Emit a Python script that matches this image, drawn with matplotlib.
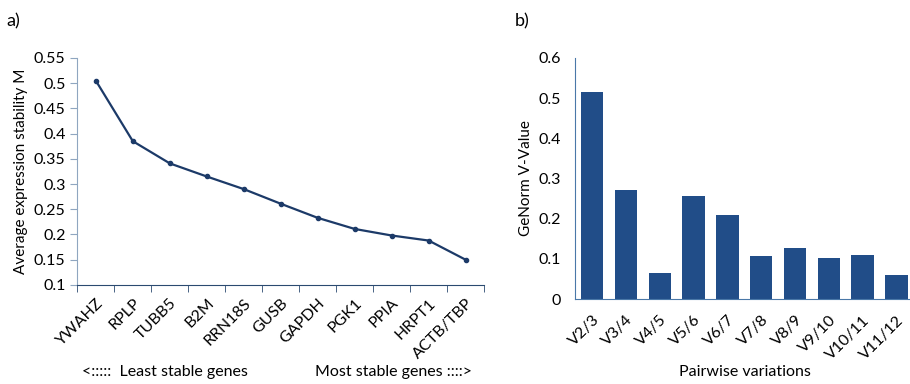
import numpy as np
import matplotlib.pyplot as plt
import matplotlib

matplotlib.rcParams['font.family'] = ['Lato', 'DejaVu Sans']

# a) geNorm average expression stability
genes = ['YWAHZ', 'RPLP', 'TUBB5', 'B2M', 'RRN18S', 'GUSB', 'GAPDH',
         'PGK1', 'PPIA', 'HRPT1', 'ACTB/TBP']
stability_m = [0.505, 0.385, 0.341, 0.315, 0.290, 0.261, 0.233,
               0.211, 0.198, 0.188, 0.150]

# b) pairwise variations
pairs = ['V2/3', 'V3/4', 'V4/5', 'V5/6', 'V6/7', 'V7/8', 'V8/9',
         'V9/10', 'V10/11', 'V11/12']
v_value = [0.515, 0.272, 0.065, 0.257, 0.209, 0.107, 0.127,
           0.103, 0.110, 0.060]

line_col = '#1c3a68'
bar_col = '#214d88'
axis_col = '#8fa6c0'

fig = plt.figure(figsize=(9.1, 3.84), dpi=100)

# --- panel a ---
ax1 = fig.add_axes([0.085, 0.258, 0.447, 0.591])
x = np.arange(len(genes))
ax1.plot(x, stability_m, color=line_col, lw=1.6, marker='o', ms=3)
ax1.set_xlim(-0.5, len(genes) - 0.5)
ax1.set_ylim(0.1, 0.55)
ax1.set_yticks(np.arange(0.1, 0.551, 0.05))
ax1.set_yticklabels(['0.1', '0.15', '0.2', '0.25', '0.3', '0.35', '0.4',
                     '0.45', '0.5', '0.55'])
ax1.set_xticks(x)
ax1.set_xticklabels(genes, rotation=45, ha='right', rotation_mode='anchor',
                    fontsize=11.5)
ax1.set_xticks(np.arange(-0.5, len(genes)), minor=True)
ax1.tick_params(axis='x', which='major', length=0, pad=8)
ax1.tick_params(axis='x', which='minor', length=5, color='#2b4a70', direction='out')
ax1.tick_params(axis='y', labelsize=11.5, length=5, color=axis_col)
for s in ['top', 'right']:
    ax1.spines[s].set_visible(False)
ax1.spines['left'].set_color(axis_col)
ax1.spines['bottom'].set_color('#2b4a70')
ax1.set_ylabel('Average expression stability M', fontsize=11)
fig.text(0.181, 0.02, '<:::::  Least stable genes', ha='center', fontsize=11.5)
fig.text(0.432, 0.02, 'Most stable genes ::::>', ha='center', fontsize=11.5)
fig.text(0.007, 0.93, 'a)', fontsize=13)

# --- panel b ---
ax2 = fig.add_axes([0.632, 0.221, 0.368, 0.628])
xb = np.arange(len(pairs))
ax2.bar(xb, v_value, width=0.66, color=bar_col)
ax2.set_xlim(-0.5, len(pairs) - 0.6)
ax2.set_ylim(0, 0.6)
ax2.set_yticks(np.arange(0, 0.61, 0.1))
ax2.set_yticklabels(['0', '0.1', '0.2', '0.3', '0.4', '0.5', '0.6'])
ax2.set_xticks(xb)
ax2.set_xticklabels(pairs, rotation=45, ha='right', rotation_mode='anchor',
                    fontsize=11.5)
ax2.tick_params(axis='x', length=0, pad=10)
ax2.tick_params(axis='y', length=0, labelsize=11.5, pad=10)
for s in ['top', 'right']:
    ax2.spines[s].set_visible(False)
ax2.spines['left'].set_color('#4a78a8')
ax2.spines['bottom'].set_color('#4a78a8')
ax2.set_ylabel('GeNorm V-Value', fontsize=11)
fig.text(0.819, 0.02, 'Pairwise variations', ha='center', fontsize=11.5)
fig.text(0.566, 0.93, 'b)', fontsize=13)

plt.savefig('out.png', dpi=100)
